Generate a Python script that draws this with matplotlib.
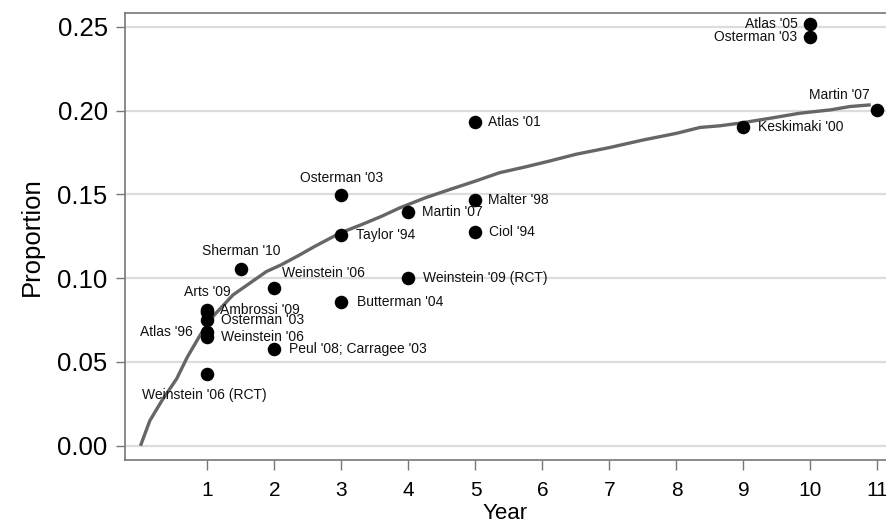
import matplotlib
matplotlib.use("Agg")
import matplotlib.pyplot as plt

plt.rcParams['font.family'] = ['Liberation Sans', 'DejaVu Sans']

# Cumulative incidence curve
curve_year = [0, 0.14, 0.32, 0.54, 0.70, 0.89, 1.10, 1.38, 1.63, 1.88, 2.10, 2.38, 2.60,
              2.98, 3.30, 3.60, 3.87, 4.25, 4.62, 5.00, 5.36, 5.75, 6.11, 6.50, 7.0, 7.5,
              8.0, 8.35, 8.65, 8.95, 9.40, 9.84, 10.3, 10.59, 10.9]
curve_prop = [0, 0.015, 0.027, 0.040, 0.053, 0.066, 0.078, 0.090, 0.097, 0.104, 0.108, 0.114,
              0.119, 0.127, 0.132, 0.137, 0.142, 0.148, 0.153, 0.158, 0.163, 0.1665, 0.170,
              0.174, 0.178, 0.1825, 0.1865, 0.190, 0.191, 0.1926, 0.1955, 0.1985, 0.2005,
              0.2025, 0.2035]

# Study points
study_year = [10, 10, 11, 5, 9, 3, 5, 4, 3, 5, 1.5, 2, 4, 3,
              1, 1, 1, 1, 1, 2, 1]
study_prop = [0.252, 0.244, 0.2004, 0.1933, 0.190, 0.1497, 0.1467, 0.1397, 0.1258, 0.1278,
              0.1055, 0.094, 0.0999, 0.086, 0.081, 0.080, 0.075, 0.068, 0.065, 0.0575, 0.0428]
study_label = ["Atlas '05", "Osterman '03", "Martin '07", "Atlas '01", "Keskimaki '00",
               "Osterman '03", "Malter '98", "Martin '07", "Taylor '94", "Ciol '94",
               "Sherman '10", "Weinstein '06", "Weinstein '09 (RCT)", "Butterman '04",
               "Arts '09", "Ambrossi '09", "Osterman '03", "Atlas '96", "Weinstein '06",
               "Peul '08; Carragee '03", "Weinstein '06 (RCT)"]

# label placement (offset in pixels, horizontal alignment)
label_style = [(-13, 0, 'right'), (-13, 0, 'right'), (-8, 15, 'right'), (13, 0, 'left'),
               (15, 0, 'left'), (0, 17, 'center'), (13, 0, 'left'), (14, 0, 'left'),
               (15, 0, 'left'), (14, 0, 'left'), (0, 18, 'center'), (8, 15, 'left'),
               (15, 0, 'left'), (16, 0, 'left'), (0, 18, 'center'), (13, 2, 'left'),
               (14, 0, 'left'), (-15, 0, 'right'), (14, 0, 'left'), (15, 0, 'left'),
               (-3, -21, 'center')]

y_ticks = [0.00, 0.05, 0.10, 0.15, 0.20, 0.25]
x_ticks = [1, 2, 3, 4, 5, 6, 7, 8, 9, 10, 11]

fig = plt.figure(figsize=(8.86, 5.23), dpi=100)
ax = fig.add_axes([125 / 886, 1 - 460 / 523, 1 - 125 / 886, (460 - 12.7) / 523])

for yt in y_ticks:
    ax.axhline(yt, color='#dcdcdc', lw=1.6, zorder=0)

ax.plot(curve_year, curve_prop, color='#666666', lw=2.4, zorder=2,
        solid_capstyle='butt', solid_joinstyle='round')
ax.scatter(study_year, study_prop, s=95, color='black', zorder=3, linewidths=0)

for x, y, lab, (dx, dy, ha) in zip(study_year, study_prop, study_label, label_style):
    ax.annotate(lab, (x, y), xytext=(dx, dy), textcoords='offset pixels',
                ha=ha, va='center', fontsize=10, color='#111111', zorder=4)

ax.set_xlim(-0.231, 11.127)
ax.set_ylim(-0.0085, 0.2585)

ax.set_yticks(y_ticks)
ax.set_yticklabels([f"{v:.2f}" for v in y_ticks])
ax.set_xticks(x_ticks)
ax.set_xticklabels([str(v) for v in x_ticks])

ax.tick_params(axis='y', labelsize=18.5, length=6.5, width=1, color='#777777', pad=6)
ax.tick_params(axis='x', labelsize=15, length=7.2, width=1, color='#777777', pad=8)

for side in ['left', 'bottom', 'top']:
    ax.spines[side].set_color('#777777')
    ax.spines[side].set_linewidth(1.2)
ax.spines['right'].set_visible(False)

ax.set_ylabel('Proportion', fontsize=18.5, labelpad=10)
ax.set_xlabel('Year', fontsize=16, labelpad=2)

fig.savefig('out.png', dpi=100)
